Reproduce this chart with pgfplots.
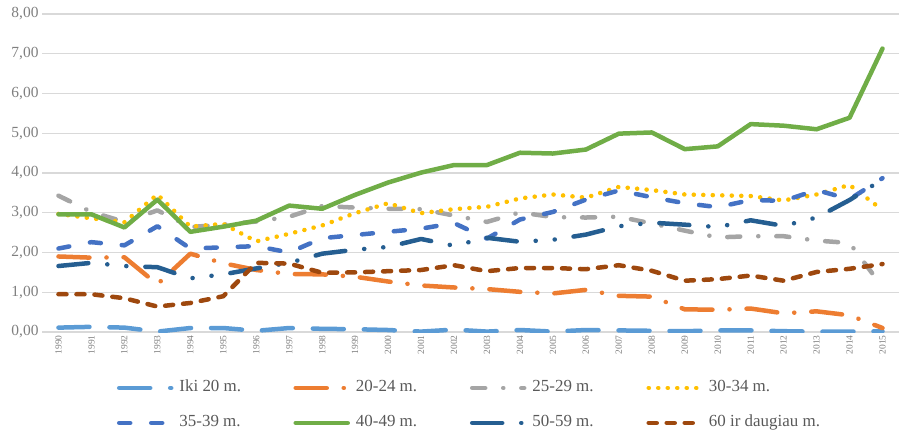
\documentclass[border=0pt]{standalone}
\usepackage{fontspec}
\setmainfont{Liberation Serif}
\usepackage{pgfplots}
\pgfplotsset{compat=1.18}
\usepackage{pgfplotstable}
\definecolor{cA}{HTML}{5B9BD5}
\definecolor{cB}{HTML}{ED7D31}
\definecolor{cC}{HTML}{A5A5A5}
\definecolor{cD}{HTML}{FFC000}
\definecolor{cE}{HTML}{4472C4}
\definecolor{cF}{HTML}{70AD47}
\definecolor{cG}{HTML}{255E91}
\definecolor{cH}{HTML}{9E480E}
\definecolor{gridc}{HTML}{D9D9D9}
\definecolor{tickc}{HTML}{7F7F7F}
\definecolor{legc}{HTML}{595959}

\pgfplotstableread{
i  a    b    c    d    e    f    g    h
0  0.11 1.90 3.43 2.97 2.10 2.96 1.66 0.95
1  0.13 1.87 3.02 2.86 2.26 2.96 1.74 0.95
2  0.11 1.88 2.77 2.76 2.18 2.63 1.66 0.85
3  0.01 1.20 3.06 3.46 2.66 3.33 1.63 0.64
4  0.10 1.97 2.64 2.65 2.10 2.52 1.35 0.73
5  0.10 1.73 2.70 2.72 2.13 2.65 1.45 0.90
6  0.03 1.56 2.78 2.28 2.16 2.80 1.60 1.74
7  0.10 1.46 2.90 2.47 2.00 3.18 1.74 1.72
8  0.08 1.45 3.17 2.68 2.36 3.10 1.97 1.49
9  0.07 1.39 3.13 2.99 2.44 3.45 2.07 1.50
10 0.05 1.27 3.10 3.24 2.52 3.76 2.14 1.53
11 0.01 1.17 3.09 2.99 2.60 4.01 2.34 1.56
12 0.06 1.12 2.93 3.09 2.74 4.20 2.17 1.68
13 0.01 1.08 2.77 3.15 2.35 4.20 2.37 1.53
14 0.05 1.01 3.01 3.36 2.83 4.51 2.27 1.61
15 0.01 0.97 2.89 3.46 3.02 4.49 2.32 1.61
16 0.05 1.06 2.88 3.38 3.33 4.59 2.45 1.58
17 0.04 0.91 2.90 3.65 3.56 4.99 2.66 1.68
18 0.03 0.89 2.73 3.57 3.39 5.02 2.75 1.54
19 0.02 0.57 2.55 3.46 3.24 4.60 2.70 1.29
20 0.04 0.56 2.38 3.44 3.14 4.67 2.64 1.33
21 0.04 0.59 2.41 3.42 3.32 5.23 2.81 1.42
22 0.02 0.47 2.41 3.31 3.30 5.19 2.67 1.29
23 0.01 0.52 2.30 3.46 3.57 5.10 2.88 1.51
24 0.01 0.42 2.24 3.70 3.34 5.39 3.32 1.59
25 0.02 0.10 1.13 3.07 3.87 7.13 3.84 1.71
}\data

\begin{document}
\begin{tikzpicture}
\useasboundingbox (-42bp,-101bp) rectangle (857bp,332bp);
\begin{axis}[
  at={(0,0)}, anchor=south west,
  scale only axis, width=857bp, height=318bp,
  xmin=-0.5, xmax=25.5, ymin=0, ymax=8,
  xtick={0,...,25}, ytick={0,...,8},
  xticklabels={1990,1991,1992,1993,1994,1995,1996,1997,1998,1999,2000,2001,2002,2003,2004,2005,2006,2007,2008,2009,2010,2011,2012,2013,2014,2015},
  yticklabel={\pgfmathprintnumber[fixed,fixed zerofill,precision=2,use comma]{\tick}},
  /pgf/number format/assume math mode=true,
  ymajorgrids, major grid style={draw=gridc, line width=1.2bp},
  axis line style={draw=none},
  major tick length=0pt,
  tick label style={text=tickc},
  x tick label style={rotate=90, anchor=east, font=\fontsize{9.5}{10}\selectfont},
  y tick label style={font=\fontsize{15.5}{17}\selectfont},
  every axis plot/.append style={line width=4.5bp, line cap=round, line join=round},
  legend columns=4,
  legend cell align=left,
  legend image code/.code={\draw[#1] (1bp,0bp) -- (53bp,0bp);},
  legend style={at={(0.0875,-0.2311)}, anchor=west, draw=none, fill=none,
    inner sep=0pt, outer sep=0pt, row sep=15bp, column sep=0bp,
    font=\fontsize{17}{19}\selectfont, text=legc,
    nodes={text height=12bp, text depth=4bp, inner sep=2bp},
    /tikz/every odd column/.append style={column sep=4bp}},
]
\addplot[cA, dash pattern=on 31bp off 20bp] table[x=i,y=a]{\data};
\addlegendentry{\makebox[112bp][l]{Iki 20 m.}}
\addplot[cB, dash pattern=on 31bp off 17bp on 0.1bp off 17bp] table[x=i,y=b]{\data};
\addlegendentry{\makebox[112bp][l]{20-24 m.}}
\addplot[cC, dash pattern=on 13bp off 18bp on 0.1bp off 18bp] table[x=i,y=c]{\data};
\addlegendentry{\makebox[112bp][l]{25-29 m.}}
\addplot[cD, dash pattern=on 0.1bp off 9.4bp] table[x=i,y=d]{\data};
\addlegendentry{\makebox[112bp][l]{30-34 m.}}
\addplot[cE, dash pattern=on 11bp off 21bp] table[x=i,y=e]{\data};
\addlegendentry{\makebox[112bp][l]{35-39 m.}}
\addplot[cF, solid] table[x=i,y=f]{\data};
\addlegendentry{\makebox[112bp][l]{40-49 m.}}
\addplot[cG, dash pattern=on 30bp off 19bp on 0.1bp off 19bp on 0.1bp off 19bp] table[x=i,y=g]{\data};
\addlegendentry{\makebox[112bp][l]{50-59 m.}}
\addplot[cH, dash pattern=on 8bp off 10bp] table[x=i,y=h]{\data};
\addlegendentry{\makebox[112bp][l]{60 ir daugiau m.}}
\end{axis}
\end{tikzpicture}
\end{document}
